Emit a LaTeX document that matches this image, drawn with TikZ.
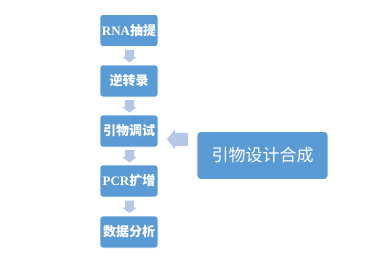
\documentclass[tikz,border=0pt]{standalone}
\usepackage{fontspec}
\setmainfont{Liberation Serif}
\newfontfamily\cjk{Noto Sans CJK SC}
\usetikzlibrary{calc}
\definecolor{boxblue}{HTML}{5B9BD5}
\definecolor{arrowblue}{HTML}{B4C7E7}
\begin{document}
\begin{tikzpicture}[x=1pt,y=-1pt,
  stepbox/.style={draw=white,line width=0.6pt,fill=boxblue,rounded corners=3pt,minimum width=58pt,minimum height=32pt,inner sep=0pt,text=white,font=\fontsize{13pt}{15pt}\selectfont\bfseries},
  bigbox/.style={draw=white,line width=0.6pt,fill=boxblue,rounded corners=4pt,minimum width=131pt,minimum height=48pt,inner sep=0pt,text=white,font=\fontsize{17pt}{20pt}\selectfont\cjk},
  blockarrow/.style={fill=arrowblue,draw=none}
]
\useasboundingbox (0,0) rectangle (366,266);
\node[stepbox] (b1) at (129,30.5) {RNA{\cjk 抽提}};
\node[stepbox] (b2) at (129,81) {\cjk 逆转录};
\node[stepbox] (b3) at (129,131) {\cjk 引物调试};
\node[stepbox] (b4) at (129,181) {PCR{\cjk 扩增}};
\node[stepbox] (b5) at (129,232) {\cjk 数据分析};
\node[bigbox] (big) at (262.5,155.5) {引物设计合成};
\coordinate (a1) at ($(b1.south)!0.5!(b2.north)+(0.5,0)$);
\coordinate (a2) at ($(b2.south)!0.5!(b3.north)+(0.5,0)$);
\coordinate (a3) at ($(b3.south)!0.5!(b4.north)+(0.5,0)$);
\coordinate (a4) at ($(b4.south)!0.5!(b5.north)+(0.5,0)$);
\foreach \a in {a1,a2,a3,a4}{
  \fill[blockarrow,shift={(\a)}] (-4.5,-6) -- (4.5,-6) -- (4.5,1) -- (7.5,1) -- (0,6.5) -- (-7.5,1) -- (-4.5,1) -- cycle;
}
\coordinate (a5) at ($(b3.east)!0.5!(big.west)+(0,-4)$);
\fill[blockarrow,shift={(a5)}] (10.5,-6.5) -- (10.5,6.5) -- (-2.5,6.5) -- (-2.5,10) -- (-10.5,0) -- (-2.5,-10) -- (-2.5,-6.5) -- cycle;
\end{tikzpicture}
\end{document}
